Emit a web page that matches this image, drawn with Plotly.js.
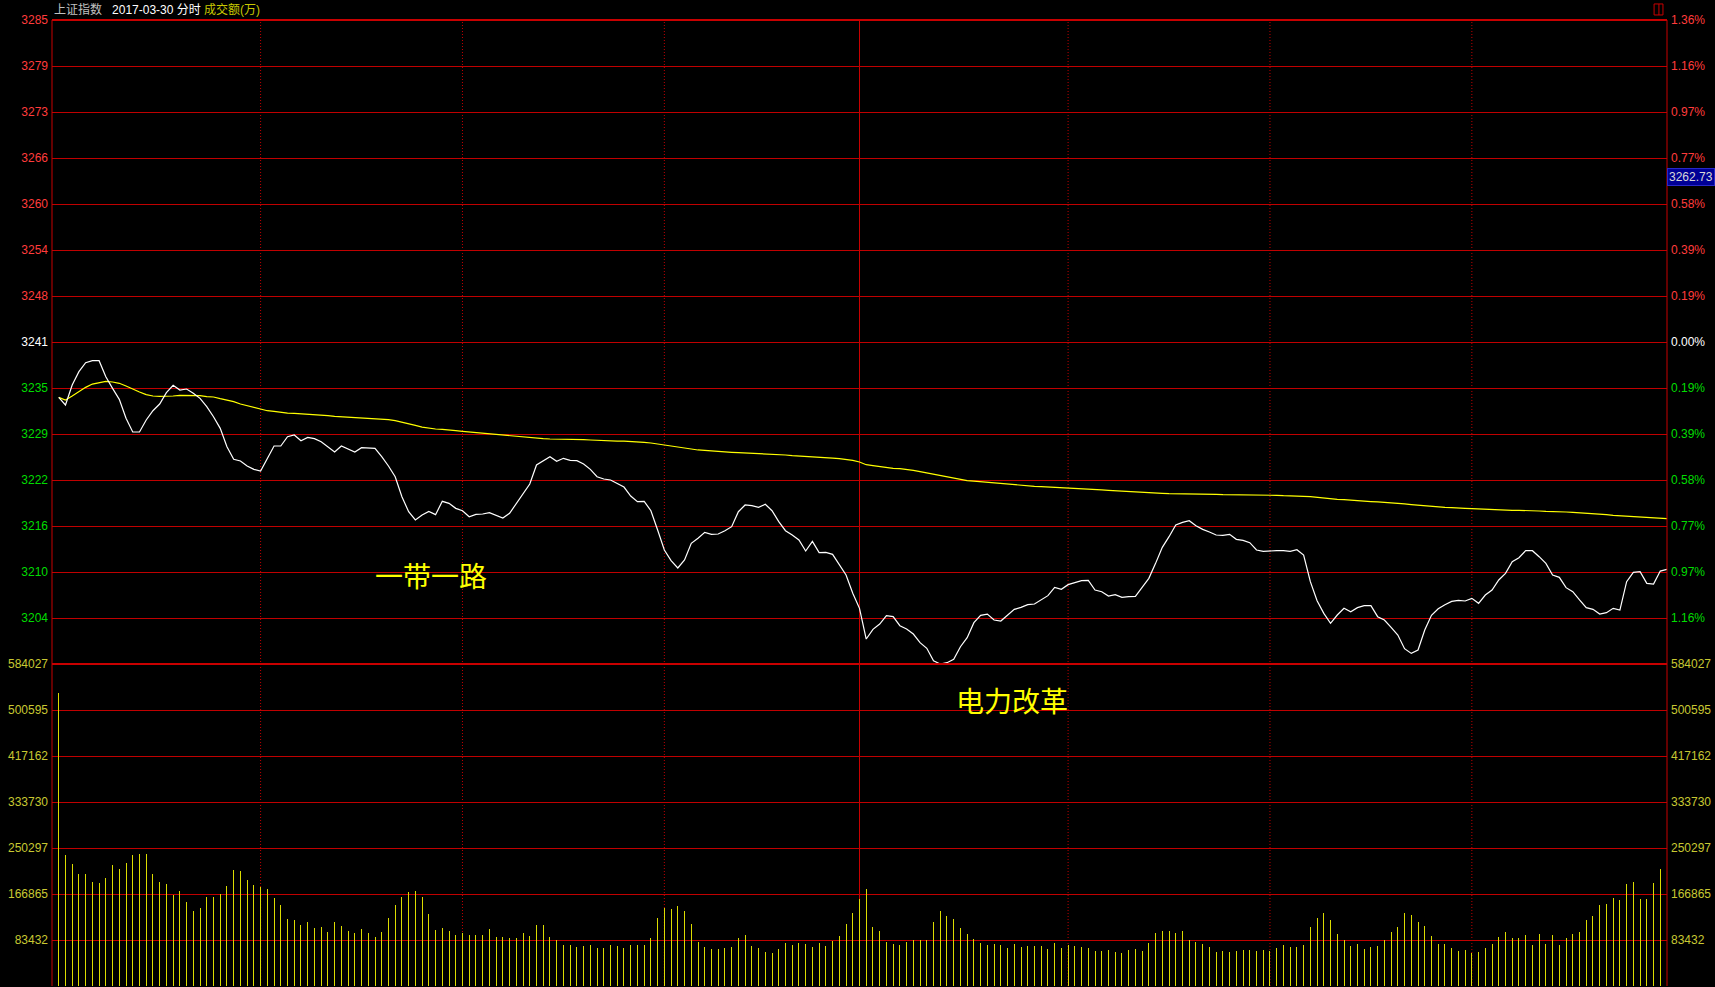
<!DOCTYPE html>
<html><head><meta charset="utf-8">
<script src="https://cdn.plot.ly/plotly-3.0.1.min.js"></script>
<style>html,body{margin:0;padding:0;background:#000;overflow:hidden}#chart{width:1715px;height:987px}</style>
</head><body><div id="chart"></div>
<script>
// ---- data ----
const prevClose = 3241.31;
const price = [
3233.75,3232.71,3235.44,3237.26,3238.49,3238.76,3238.76,3236.57,3234.98,3233.48,
3230.89,3229.02,3229.02,3230.66,3231.93,3232.84,3234.39,3235.39,3234.75,3234.89,
3234.30,3233.62,3232.48,3231.11,3229.52,3227.02,3225.29,3225.06,3224.38,3223.92,
3223.70,3225.43,3227.11,3227.11,3228.38,3228.61,3227.84,3228.29,3228.11,3227.70,
3226.93,3226.29,3227.11,3226.75,3226.29,3226.88,3226.88,3226.79,3225.65,3224.38,
3222.92,3220.19,3218.14,3217.01,3217.69,3218.19,3217.74,3219.56,3219.28,3218.60,
3218.28,3217.46,3217.78,3217.83,3218.01,3217.69,3217.28,3217.92,3219.28,3220.65,
3221.92,3224.52,3225.11,3225.65,3225.02,3225.43,3225.15,3225.11,3224.65,3223.92,
3222.92,3222.61,3222.47,3222.01,3221.51,3220.28,3219.51,3219.56,3218.28,3215.64,
3212.91,3211.46,3210.46,3211.55,3213.82,3214.51,3215.32,3215.05,3215.10,3215.55,
3216.10,3218.14,3219.06,3218.97,3218.74,3219.15,3218.28,3216.78,3215.55,3214.96,
3214.28,3212.78,3214.09,3212.55,3212.59,3212.32,3210.86,3209.50,3207.00,3204.95,
3200.76,3202.08,3202.81,3203.95,3203.81,3202.58,3202.13,3201.44,3200.26,3199.49,
3197.80,3197.35,3197.53,3197.99,3199.71,3200.94,3202.99,3203.99,3204.17,3203.36,
3203.22,3203.99,3204.81,3205.08,3205.45,3205.54,3206.09,3206.68,3207.81,3207.54,
3208.18,3208.45,3208.73,3208.77,3207.45,3207.22,3206.63,3206.81,3206.45,3206.54,
3206.59,3207.81,3209.04,3211.09,3213.27,3214.73,3216.32,3216.69,3216.92,3216.23,
3215.73,3215.37,3214.96,3214.91,3215.05,3214.37,3214.23,3213.91,3212.91,3212.73,
3212.82,3212.82,3212.82,3212.73,3212.96,3212.23,3208.59,3205.99,3204.26,3202.90,
3204.04,3204.95,3204.49,3205.04,3205.31,3205.31,3203.81,3203.36,3202.35,3201.31,
3199.44,3198.80,3199.26,3201.99,3203.99,3204.90,3205.45,3205.90,3206.04,3205.95,
3206.31,3205.63,3206.77,3207.45,3208.82,3209.73,3211.32,3211.86,3212.82,3212.82,
3212.00,3211.09,3209.50,3209.18,3207.77,3207.22,3206.09,3205.04,3204.81,3204.17,
3204.36,3204.95,3204.72,3208.59,3209.86,3209.95,3208.36,3208.27,3210.04,3210.27];
const avgPrice = [
3233.75,3233.39,3233.94,3234.53,3235.12,3235.57,3235.76,3235.94,3235.85,3235.67,
3235.30,3234.85,3234.48,3234.12,3233.94,3233.89,3233.89,3233.94,3234.03,3234.03,
3234.03,3233.98,3233.85,3233.80,3233.57,3233.39,3233.16,3232.84,3232.62,3232.39,
3232.12,3231.93,3231.84,3231.71,3231.61,3231.57,3231.52,3231.48,3231.39,3231.34,
3231.25,3231.16,3231.11,3231.07,3231.02,3230.98,3230.93,3230.89,3230.84,3230.70,
3230.57,3230.39,3230.16,3229.93,3229.70,3229.52,3229.43,3229.39,3229.34,3229.20,
3229.11,3229.02,3228.93,3228.84,3228.75,3228.66,3228.57,3228.48,3228.43,3228.34,
3228.25,3228.16,3228.11,3228.07,3228.07,3228.02,3228.02,3228.02,3227.98,3227.93,
3227.88,3227.88,3227.84,3227.79,3227.79,3227.75,3227.66,3227.61,3227.52,3227.38,
3227.25,3227.06,3226.93,3226.79,3226.66,3226.57,3226.52,3226.43,3226.38,3226.34,
3226.25,3226.20,3226.16,3226.11,3226.07,3226.07,3226.02,3225.93,3225.88,3225.79,
3225.75,3225.70,3225.66,3225.61,3225.56,3225.47,3225.38,3225.29,3225.15,3224.93,
3224.56,3224.43,3224.29,3224.15,3224.06,3224.02,3223.93,3223.79,3223.61,3223.43,
3223.24,3223.06,3222.88,3222.65,3222.47,3222.38,3222.33,3222.24,3222.15,3222.06,
3221.97,3221.92,3221.83,3221.74,3221.70,3221.60,3221.56,3221.52,3221.47,3221.42,
3221.38,3221.33,3221.29,3221.24,3221.20,3221.11,3221.06,3221.02,3220.97,3220.92,
3220.88,3220.83,3220.79,3220.74,3220.65,3220.60,3220.60,3220.60,3220.56,3220.56,
3220.56,3220.51,3220.51,3220.47,3220.47,3220.47,3220.42,3220.42,3220.38,3220.38,
3220.38,3220.38,3220.33,3220.33,3220.29,3220.24,3220.20,3220.10,3219.97,3219.92,
3219.83,3219.79,3219.70,3219.65,3219.56,3219.52,3219.47,3219.42,3219.33,3219.29,
3219.20,3219.11,3219.02,3218.92,3218.88,3218.78,3218.74,3218.69,3218.60,3218.60,
3218.56,3218.51,3218.47,3218.47,3218.42,3218.37,3218.33,3218.33,3218.33,3218.28,
3218.24,3218.19,3218.19,3218.15,3218.10,3218.06,3218.01,3217.97,3217.83,3217.79,
3217.74,3217.65,3217.60,3217.56,3217.47,3217.38,3217.33,3217.29,3217.24,3217.20];
const volume = [
532000,238140,221810,203670,203670,189165,187350,196420,220000,212745,
223630,238140,239950,239950,203670,189165,185540,165585,172840,152890,
136565,142005,161960,161960,167400,181910,210930,209120,192790,183725,
180100,176470,160140,147450,122055,120245,111170,116610,105730,107540,
98475,116610,109355,100290,96665,103920,96665,89410,98475,123870,
147450,161960,171030,172840,161960,131125,102100,105730,100290,93030,
96665,93030,93030,93030,103920,89410,89410,87600,87600,96665,
91220,111170,111170,89410,83965,74900,74900,71270,73085,74900,
69460,69460,74900,73085,69460,74900,74900,74900,87600,123870,
140800,140190,145635,136565,112990,80340,71270,67640,67640,69460,
71270,87600,93030,73085,69460,62200,60390,67640,78530,74900,
78530,76710,71270,78530,73085,82155,91220,112990,132940,158330,
176470,107540,100290,80340,76710,74900,80340,83965,83965,83965,
116610,136565,127500,122055,105730,94845,85780,78530,74900,76710,
74900,69460,76710,71270,73085,73085,73085,67640,78530,69460,
74900,73085,71270,69460,64010,64010,65830,62200,60390,65830,
67640,64010,78530,96665,100290,100290,96665,100290,83965,80340,
76710,71270,62200,64010,62200,64010,65830,65830,64010,65830,
64010,69460,74900,71270,71270,74900,107540,123870,132940,120245,
94845,83965,73085,76710,67640,71270,73085,83965,98475,107540,
132940,129310,116610,109355,91220,76710,76710,69460,64010,65830,
60390,62200,69460,76710,89410,98475,87600,87600,93030,74900,
94845,76710,93030,74900,87600,94845,98475,120245,127500,147450,
149260,160140,156520,185540,189165,158330,158330,187350,212745,252600];
const priceTickLabels = ['3285','3279','3273','3266','3260','3254','3248','3241','3235','3229','3222','3216','3210','3204',''];
const pctTickLabels = ['1.36%','1.16%','0.97%','0.77%','0.58%','0.39%','0.19%','0.00%','0.19%','0.39%','0.58%','0.77%','0.97%','1.16%',''];
const volTickLabels = ['584027','500595','417162','333730','250297','166865','83432'];
const cursorValue = 3262.73;
const notes = ['一带一路','电力改革'];

// ---- build ----
const minutes = price.map((_, i) => i + 1);
const step = 6.28;
const pRange = [prevClose - 7 * step, prevClose + 7 * step];
const pTickVals = priceTickLabels.map((_, i) => prevClose + (7 - i) * step);
const tone = i => i < 7 ? '#ff3c3c' : (i === 7 ? '#ffffff' : '#00dc00');
const pTickText = priceTickLabels.map((t, i) => `<span style="color:${tone(i)}">${t}</span>`);
const pctTickText = pctTickLabels.map((t, i) => `<span style="color:${tone(i)}">${t}</span>`);
const vTickVals = volTickLabels.map(Number);
const vMax = vTickVals[0];

const RED = '#c80000', GRID = '#c00000', VOLC = '#c8c832';
const baseFont = 'Liberation Sans, Arial, Noto Sans CJK SC, sans-serif';

const traces = [
  {x: minutes, y: volume, type: 'bar', xaxis: 'x', yaxis: 'y3', width: 0.15,
   marker: {color: 'rgba(220,220,0,0.999)', line: {width: 0}}, hoverinfo: 'skip'},
  {x: minutes, y: volume, type: 'scatter', mode: 'lines', xaxis: 'x', yaxis: 'y4', opacity: 0,
   line: {width: 0}, hoverinfo: 'skip'},
  {x: minutes, y: avgPrice, type: 'scatter', mode: 'lines', xaxis: 'x', yaxis: 'y',
   line: {color: '#ffff00', width: 1.2}, hoverinfo: 'skip'},
  {x: minutes, y: price, type: 'scatter', mode: 'lines', xaxis: 'x', yaxis: 'y',
   line: {color: '#ffffff', width: 1.2}, hoverinfo: 'skip'},
  {x: minutes, y: price, type: 'scatter', mode: 'lines', xaxis: 'x', yaxis: 'y2', opacity: 0,
   line: {width: 0}, hoverinfo: 'skip'}
];

const axisCommon = {zeroline: false, ticks: '', fixedrange: true, showline: false, tickmode: 'array', ticklabelstandoff: 3};

const vLines = [31, 61, 91, 151, 181, 211].map(v => ({
  type: 'line', xref: 'x', yref: 'paper', x0: v, x1: v, y0: 0, y1: 1, layer: 'below',
  line: {color: GRID, width: 1, dash: '1px,2px'}}));
const frame = [
  {type: 'line', xref: 'x', yref: 'paper', x0: 120, x1: 120, y0: 0, y1: 1, layer: 'below', line: {color: RED, width: 1}},
  {type: 'line', xref: 'paper', yref: 'paper', x0: 0, x1: 0, y0: 0, y1: 1, line: {color: RED, width: 1}},
  {type: 'line', xref: 'paper', yref: 'paper', x0: 1, x1: 1, y0: 0, y1: 1, line: {color: RED, width: 1}},
  {type: 'line', xref: 'paper', yref: 'paper', x0: 0, x1: 1, y0: 1, y1: 1, line: {color: RED, width: 2}},
  {type: 'line', xref: 'paper', yref: 'paper', x0: 0, x1: 1, y0: 1/3, y1: 1/3, line: {color: RED, width: 2}},
  {type: 'rect', xref: 'paper', yref: 'paper', x0: 0.9920, x1: 0.9975, y0: 1.0052, y1: 1.0166, line: {color: RED, width: 1}},
  {type: 'line', xref: 'paper', yref: 'paper', x0: 0.9950, x1: 0.9950, y0: 1.0052, y1: 1.0166, line: {color: RED, width: 1}}
];

const layout = {
  width: 1715, height: 987,
  paper_bgcolor: '#000000', plot_bgcolor: '#000000',
  margin: {l: 52, r: 48, t: 20, b: 1, pad: 0},
  showlegend: false,
  font: {family: baseFont, size: 12, color: '#ff3c3c'},
  bargap: 0, bargroupgap: 0,
  hovermode: false, dragmode: false,
  xaxis: {range: [0, 240], showgrid: false, zeroline: false, showticklabels: false, ticks: '', fixedrange: true, anchor: 'y3'},
  yaxis: Object.assign({}, axisCommon, {domain: [1/3, 1], range: pRange, tickvals: pTickVals, ticktext: pTickText,
    showgrid: true, gridcolor: GRID, gridwidth: 1, anchor: 'x', side: 'left', tickfont: {family: baseFont, size: 12}}),
  yaxis2: Object.assign({}, axisCommon, {overlaying: 'y', side: 'right', anchor: 'x', range: pRange, tickvals: pTickVals,
    ticktext: pctTickText, showgrid: false, tickfont: {family: baseFont, size: 12}}),
  yaxis3: Object.assign({}, axisCommon, {domain: [0, 1/3], range: [0, vMax], tickvals: vTickVals, ticktext: volTickLabels,
    showgrid: true, gridcolor: GRID, gridwidth: 1, anchor: 'x', side: 'left', tickfont: {family: baseFont, size: 12, color: VOLC}}),
  yaxis4: Object.assign({}, axisCommon, {overlaying: 'y3', side: 'right', anchor: 'x', range: [0, vMax], tickvals: vTickVals,
    ticktext: volTickLabels, showgrid: false, tickfont: {family: baseFont, size: 12, color: VOLC}}),
  shapes: vLines.concat(frame),
  annotations: [
    {xref: 'paper', yref: 'paper', x: 0, y: 1, xanchor: 'left', yanchor: 'bottom', yshift: 1, showarrow: false,
     font: {family: baseFont, size: 12, color: '#ffffff'},
     text: '<span style="color:#c0c0c0">上证指数</span>&nbsp;&nbsp;&nbsp;<span style="color:#ffffff">2017-03-30 分时</span> <span style="color:#c8c800">成交额(万)</span>'},
    {xref: 'paper', yref: 'y', x: 1, y: cursorValue, xanchor: 'left', yanchor: 'middle', yshift: 8, showarrow: false,
     text: cursorValue.toFixed(2), bgcolor: '#000096', bordercolor: '#2828c8', borderwidth: 1, borderpad: 1,
     font: {family: baseFont, size: 12, color: '#d8d8d8'}},
    {xref: 'x', yref: 'y', x: 56.3, y: 3209.5, showarrow: false, text: notes[0],
     font: {family: 'Noto Sans CJK SC, sans-serif', size: 28, color: '#ffff00'}},
    {xref: 'x', yref: 'y3', x: 142.7, y: 519000, showarrow: false, text: notes[1],
     font: {family: 'Noto Sans CJK SC, sans-serif', size: 28, color: '#ffff00'}}
  ]
};

Plotly.newPlot('chart', traces, layout, {staticPlot: false, displayModeBar: false, responsive: false});
</script>
</body></html>
